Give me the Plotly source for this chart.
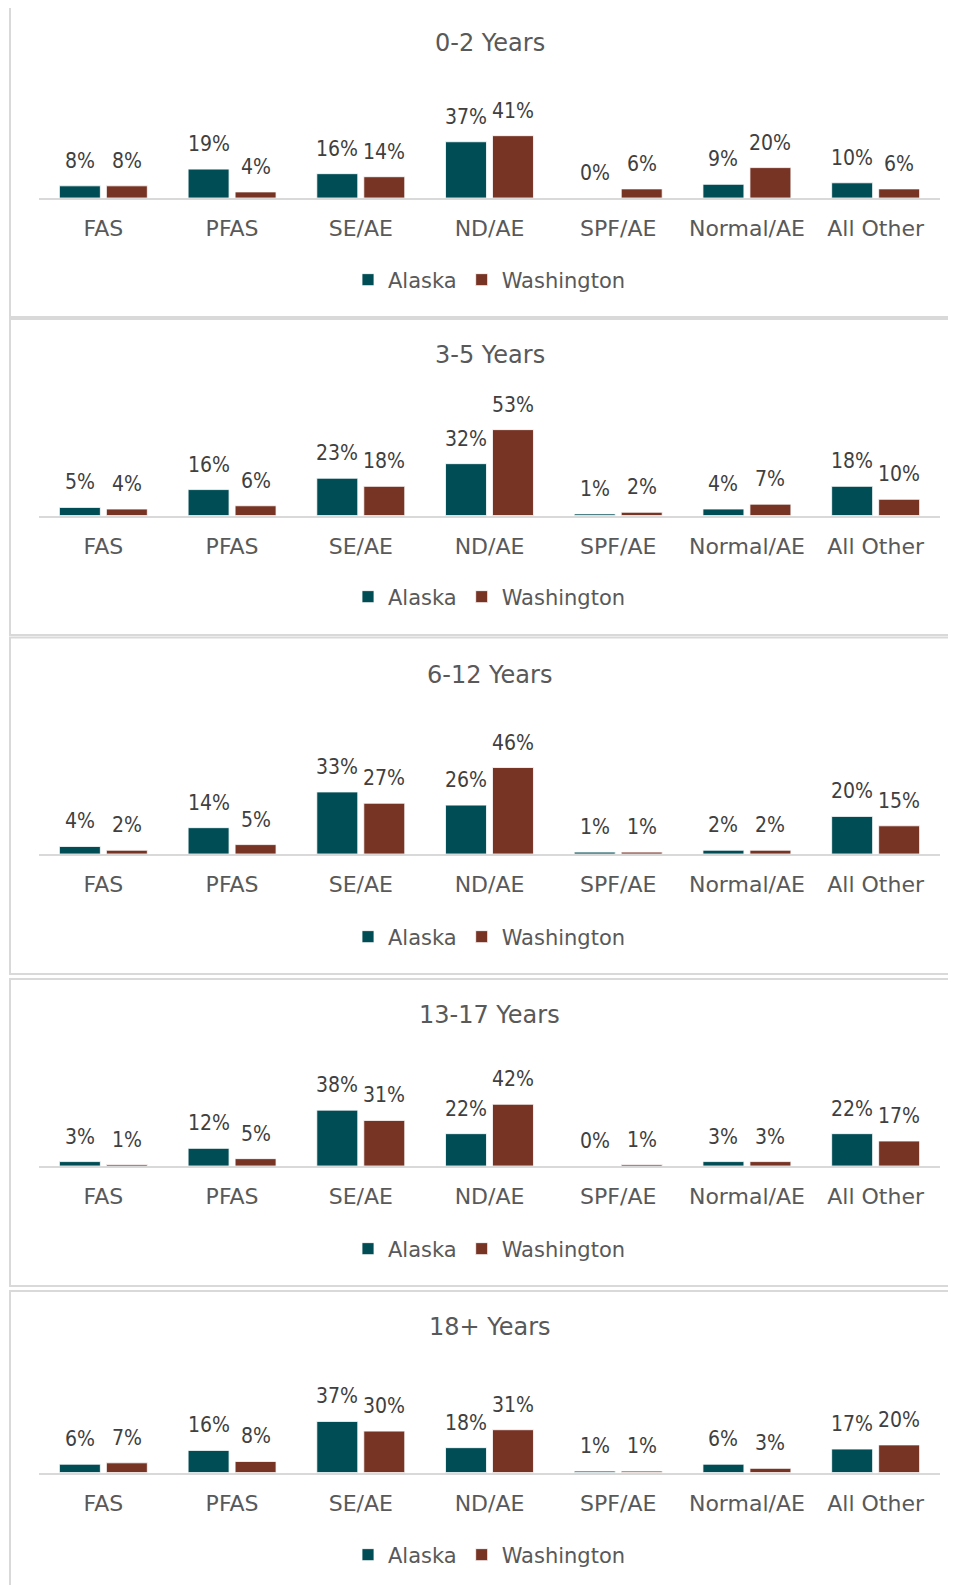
import plotly.graph_objects as go

# ---------------- data ----------------
categories = ["FAS", "PFAS", "SE/AE", "ND/AE", "SPF/AE", "Normal/AE", "All Other"]
panel_titles = ["0-2 Years", "3-5 Years", "6-12 Years", "13-17 Years", "18+ Years"]
series_names = ["Alaska", "Washington"]

alaska_0_2 = [8, 19, 16, 37, 0, 9, 10]
washington_0_2 = [8, 4, 14, 41, 6, 20, 6]
alaska_3_5 = [5, 16, 23, 32, 1, 4, 18]
washington_3_5 = [4, 6, 18, 53, 2, 7, 10]
alaska_6_12 = [4, 14, 33, 26, 1, 2, 20]
washington_6_12 = [2, 5, 27, 46, 1, 2, 15]
alaska_13_17 = [3, 12, 38, 22, 0, 3, 22]
washington_13_17 = [1, 5, 31, 42, 1, 3, 17]
alaska_18 = [6, 16, 37, 18, 1, 6, 17]
washington_18 = [7, 8, 30, 31, 1, 3, 20]

alaska_sets = [alaska_0_2, alaska_3_5, alaska_6_12, alaska_13_17, alaska_18]
washington_sets = [washington_0_2, washington_3_5, washington_6_12, washington_13_17, washington_18]

# ---------------- layout / style ----------------
PAGE_OFF = 8          # default body margin of the html page
W, H = 956 - PAGE_OFF, 1585 - PAGE_OFF
COL_AK = "#014d55"
COL_WA = "#773425"
FONT = "DejaVu Sans"
VAL_FONT = "DejaVu Sans Condensed, DejaVu Sans"
TXT_DARK = "#404040"
TXT_MID = "#595959"
BORDER = "#d9d9d9"

# per-panel geometry in screen pixels
baselines = [198, 515.5, 854, 1166, 1472.5]
px_per_pct = [1.52, 1.62, 1.88, 1.47, 1.38]
title_y = [43, 355, 675, 1015, 1327]
legend_y = [280, 597, 937, 1249, 1555]
boxes = [(6, 317), (319, 635), (637.5, 974), (979, 1286), (1291, 1640)]
plot_x0, plot_x1 = 39, 940
box_x0 = 10
dom_h = 130

BARGAP = 0.27
BARGROUPGAP = 0.128
offset = (1 - BARGAP) / 4

def py(p):
    return 1 - (p - PAGE_OFF) / H

def px(p):
    return (p - PAGE_OFF) / W

fig = go.Figure()
annotations = []
shapes = []
layout_upd = {}

x_idx = list(range(len(categories)))

for k in range(5):
    n = k + 1
    xa = "x" if n == 1 else f"x{n}"
    ya = "y" if n == 1 else f"y{n}"
    leg = "legend" if n == 1 else f"legend{n}"
    for name, vals, col, sgn in [(series_names[0], alaska_sets[k], COL_AK, -1),
                                 (series_names[1], washington_sets[k], COL_WA, 1)]:
        fig.add_trace(go.Bar(
            x=x_idx, y=vals, name=name, xaxis=xa, yaxis=ya, legend=leg,
            marker=dict(color=col, line=dict(color="white", width=0.8)),
            hoverinfo="skip",
        ))
        for i, v in enumerate(vals):
            annotations.append(dict(
                x=i + sgn * offset, y=v, xref=xa, yref=ya, text=f"{v}%",
                showarrow=False, yshift=25, yanchor="middle", xanchor="center",
                font=dict(family=VAL_FONT, size=21, color=TXT_DARK),
            ))
    b = baselines[k]
    rng_top = dom_h / px_per_pct[k]
    layout_upd["xaxis" if n == 1 else f"xaxis{n}"] = dict(
        domain=[px(plot_x0), px(plot_x1)], anchor=ya, range=[-0.5, 6.5],
        tickvals=x_idx, ticktext=categories, showline=True, linecolor=BORDER,
        linewidth=2, ticks="outside", ticklen=10, tickcolor="rgba(0,0,0,0)",
        showgrid=False, zeroline=False, fixedrange=True,
        tickfont=dict(family=FONT, size=22, color=TXT_MID),
    )
    layout_upd["yaxis" if n == 1 else f"yaxis{n}"] = dict(
        domain=[py(b), py(b - dom_h)], anchor=xa, range=[0, rng_top],
        showticklabels=False, showgrid=False, zeroline=False, showline=False,
        fixedrange=True,
    )
    layout_upd[leg] = dict(
        orientation="h", x=px((plot_x0 + plot_x1) / 2), xanchor="center",
        y=py(legend_y[k]), yanchor="middle", bgcolor="rgba(0,0,0,0)",
        font=dict(family=FONT, size=21, color=TXT_MID), itemclick=False,
        itemdoubleclick=False, tracegroupgap=0,
    )
    annotations.append(dict(
        x=px((plot_x0 + plot_x1) / 2), y=py(title_y[k]), xref="paper", yref="paper",
        text=panel_titles[k], showarrow=False, xanchor="center", yanchor="middle",
        font=dict(family=FONT, size=24, color=TXT_MID),
    ))
    y0, y1 = boxes[k]
    shapes.append(dict(
        type="rect", xref="paper", yref="paper", x0=px(box_x0), x1=px(1100),
        y0=py(y1), y1=py(y0), line=dict(color=BORDER, width=2),
        fillcolor="rgba(0,0,0,0)", layer="below",
    ))

fig.update_layout(
    width=W, height=H, margin=dict(l=0, r=0, t=0, b=0),
    paper_bgcolor="white", plot_bgcolor="white",
    barmode="group", bargap=BARGAP, bargroupgap=BARGROUPGAP,
    annotations=annotations, shapes=shapes, **layout_upd,
)

fig.write_html("out.html")
